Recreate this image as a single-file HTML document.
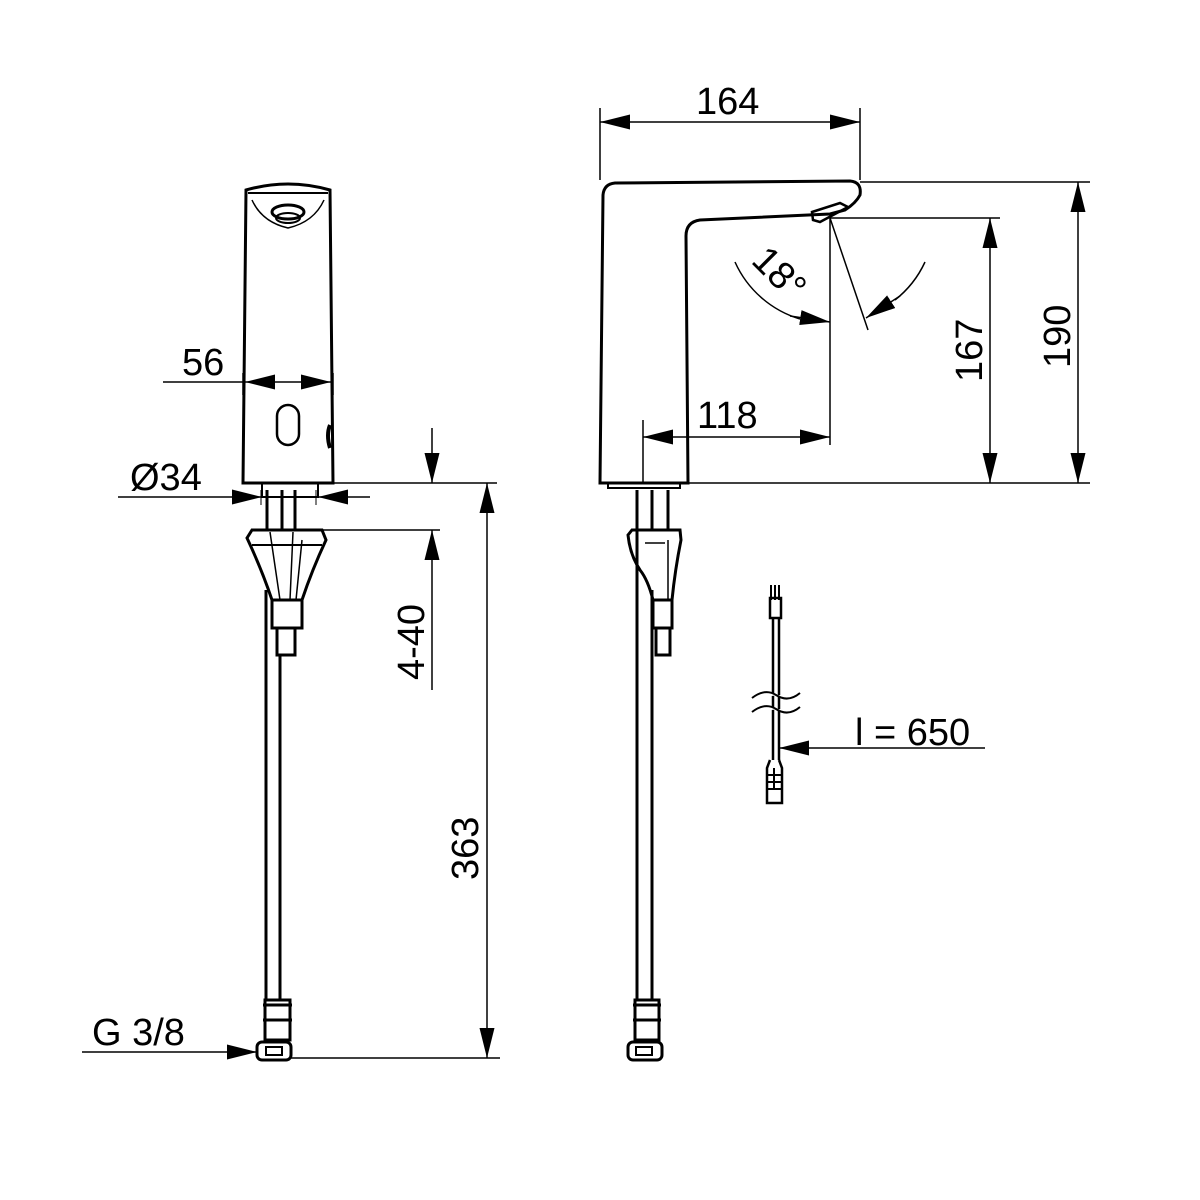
<!DOCTYPE html>
<html><head><meta charset="utf-8"><style>
html,body{margin:0;padding:0;background:#fff;}
svg{display:block;}
text{font-family:"Liberation Sans",Arial,sans-serif;font-size:38px;fill:#000;}
</style></head><body>
<svg width="1200" height="1200" viewBox="0 0 1200 1200" xmlns="http://www.w3.org/2000/svg">
<defs>
<marker id="a" viewBox="0 0 20 10" refX="20" refY="5" markerWidth="30" markerHeight="15" markerUnits="userSpaceOnUse" orient="auto"><path d="M0,0 L20,5 L0,10 z" fill="#000"/></marker>
</defs>
<g fill="none" stroke="#000">
<!-- LEFT FAUCET -->
<path d="M243,483 L246,190 Q288,178 330,190 L333,483 Z" stroke-width="3"/>
<path d="M248,193 L328,193" stroke-width="2"/>
<path d="M252,200 Q262,222 288,228 Q314,222 324,200" stroke-width="1.5"/>
<ellipse cx="288" cy="212" rx="16" ry="7" stroke-width="3"/>
<ellipse cx="288" cy="218" rx="12" ry="5" stroke-width="2"/>
<rect x="277" y="405" width="22" height="40" rx="11" stroke-width="2.5"/>
<path d="M330,425 Q326,435 330,448" stroke-width="4"/>
<path d="M243,373 L243,395 M333,373 L333,395" stroke-width="1.5"/>
<!-- shank -->
<path d="M262,483 L262,497 L318,497 L318,483" stroke-width="2"/>
<path d="M267,490 L267,530 M282,490 L282,530 M295,490 L295,530" stroke-width="3"/>
<path d="M261,490 L261,505 M316,490 L316,505" stroke-width="1"/>
<!-- plate -->
<path d="M247,538 L252,530 L322,530 L326,540 Q312,570 302,600 L272,600 Q262,570 247,538 Z" stroke-width="3"/>
<path d="M252,545 L322,545" stroke-width="2"/>
<path d="M270,532 L280,600 M293,532 L290,600 M302,540 L296,600" stroke-width="1.5"/>
<rect x="272" y="600" width="30" height="28" stroke-width="3"/>
<rect x="277" y="628" width="18" height="27" stroke-width="3"/>
<!-- hose -->
<path d="M266,590 L266,1000 M280,655 L280,1000" stroke-width="3"/>
<path d="M265,1000 L265,1040 L290,1040 L290,1000 Z M263,1005 L292,1005 M263,1020 L292,1020" stroke-width="3"/>
<rect x="257" y="1042" width="34" height="18" rx="5" stroke-width="3"/>
<rect x="266" y="1047" width="16" height="8" stroke-width="2"/>

<!-- left dims -->
<path d="M163,382 L245,382" stroke-width="1.5"/>
<path d="M288,382 L245,382" stroke-width="1.5" marker-end="url(#a)"/>
<path d="M288,382 L331,382" stroke-width="1.5" marker-end="url(#a)"/>
<path d="M118,497 L262,497" stroke-width="1.5" marker-end="url(#a)"/>
<path d="M370,497 L318,497" stroke-width="1.5" marker-end="url(#a)"/>
<path d="M318,483 L497,483 M300,530 L440,530" stroke-width="1.5"/>
<path d="M432,428 L432,483" stroke-width="1.5" marker-end="url(#a)"/>
<path d="M432,690 L432,530" stroke-width="1.5" marker-end="url(#a)"/>
<path d="M487,770 L487,483" stroke-width="1.5" marker-end="url(#a)"/>
<path d="M487,770 L487,1058" stroke-width="1.5" marker-end="url(#a)"/>
<path d="M291,1058 L500,1058" stroke-width="1.5"/>
<path d="M82,1052 L257,1052" stroke-width="1.5" marker-end="url(#a)"/>

<!-- RIGHT FAUCET -->
<path d="M600,483 L603,195 Q604,184 615,183 L850,181 Q862,182 860,195 Q856,203 845,210 L830,214 L700,220 Q686,222 686,236 L688,483 Z" stroke-width="3"/>
<path d="M812,212 L840,203 L848,207 L820,222 L813,220 Z" stroke-width="2.5"/>
<path d="M608,483 L608,488 L680,488 L680,483" stroke-width="2"/>
<!-- shank right -->
<path d="M637,490 L637,530 M652,490 L652,530 M668,490 L668,530" stroke-width="3"/>
<path d="M628,535 L632,530 L680,530 L681,540 Q675,570 672,600 L653,600 Q648,580 640,570 Q630,555 628,535 Z" stroke-width="3"/>
<path d="M645,543 L665,543 M668,540 L668,600" stroke-width="1.5"/>
<rect x="653" y="600" width="19" height="28" stroke-width="3"/>
<rect x="656" y="628" width="14" height="27" stroke-width="3"/>
<path d="M637,530 L637,1000 M652,590 L652,1000" stroke-width="3"/>
<path d="M635,1000 L635,1040 L659,1040 L659,1000 Z M633,1005 L661,1005 M633,1020 L661,1020" stroke-width="3"/>
<rect x="628" y="1042" width="34" height="18" rx="5" stroke-width="3"/>
<rect x="636" y="1047" width="16" height="8" stroke-width="2"/>

<!-- right dims -->
<path d="M600,108 L600,180 M860,108 L860,180" stroke-width="1.5"/>
<path d="M730,122 L600,122" stroke-width="1.5" marker-end="url(#a)"/>
<path d="M730,122 L860,122" stroke-width="1.5" marker-end="url(#a)"/>
<path d="M860,182 L1090,182 M688,483 L1090,483 M830,218 L1000,218" stroke-width="1.5"/>
<path d="M1078,330 L1078,182" stroke-width="1.5" marker-end="url(#a)"/>
<path d="M1078,330 L1078,483" stroke-width="1.5" marker-end="url(#a)"/>
<path d="M990,350 L990,218" stroke-width="1.5" marker-end="url(#a)"/>
<path d="M990,350 L990,483" stroke-width="1.5" marker-end="url(#a)"/>
<path d="M830,218 L830,445 M643,420 L643,483" stroke-width="1.5"/>
<path d="M736,437 L643,437" stroke-width="1.5" marker-end="url(#a)"/>
<path d="M736,437 L830,437" stroke-width="1.5" marker-end="url(#a)"/>
<path d="M830,218 L868,330" stroke-width="1.5"/>
<path d="M735,262 A104,104 0 0,0 800,319" stroke-width="1.5"/>
<path d="M790,316 L830,322" stroke-width="1.5" marker-end="url(#a)"/>
<path d="M925,262 A104,104 0 0,1 895,300" stroke-width="1.5"/>
<path d="M900,296 L866,318" stroke-width="1.5" marker-end="url(#a)"/>

<!-- cable -->
<path d="M771,585 L771,600 M775,585 L775,600 M779,585 L779,600" stroke-width="2"/>
<rect x="770" y="598" width="11" height="20" stroke-width="2.5"/>
<path d="M773,618 L773,760 M779,618 L779,760" stroke-width="2.5"/>
<path d="M752,698 Q765,688 776,695 Q788,703 800,693 M752,712 Q765,702 776,709 Q788,717 800,707" stroke-width="2" fill="#fff"/>
<path d="M770,760 L767,768 L767,803 L782,803 L782,768 L779,760" stroke-width="2.5"/>
<path d="M767,775 L782,775 M767,782 L782,782 M767,789 L782,789 M774,768 L774,790" stroke-width="2"/>
<path d="M985,748 L779,748" stroke-width="1.5" marker-end="url(#a)"/>
</g>

<text x="182" y="375">56</text>
<text x="130" y="490">Ø34</text>
<text x="92" y="1045">G 3/8</text>
<text transform="translate(424,680) rotate(-90)">4-40</text>
<text transform="translate(478,880) rotate(-90)">363</text>
<text x="696" y="114">164</text>
<text x="697" y="428">118</text>
<text transform="translate(982,382) rotate(-90)">167</text>
<text transform="translate(1070,368) rotate(-90)">190</text>
<text transform="translate(750,262) rotate(45)">18°</text>
<text x="855" y="745">l = 650</text>
</svg>
</body></html>
